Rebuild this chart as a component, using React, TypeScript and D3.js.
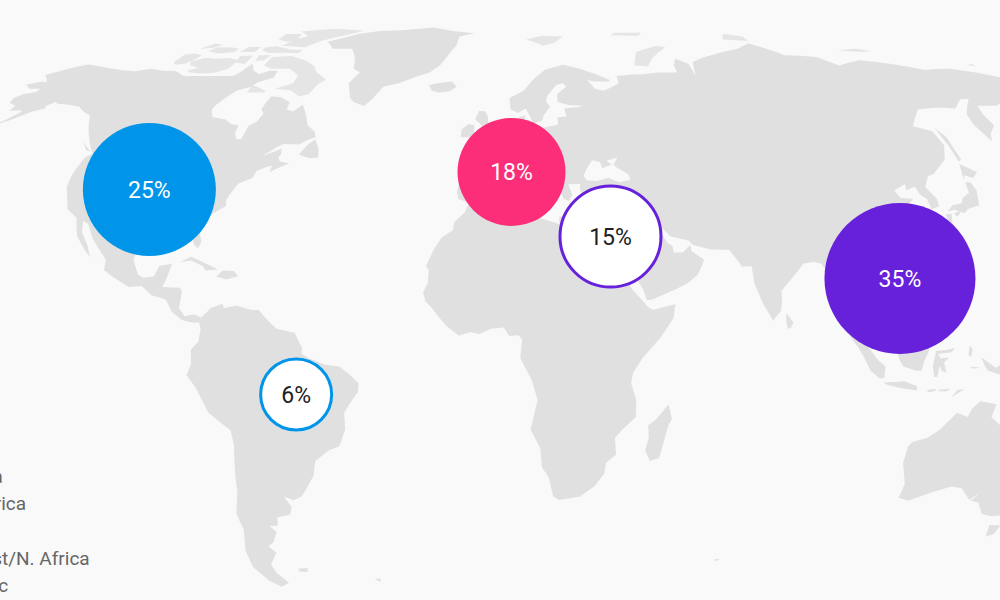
// Regional share bubbles over a grey Robinson world map. The legend hangs off the left edge.
import { useMemo } from "react";
import * as d3 from "d3";

const regions = ["North America", "Europe", "Middle East/N. Africa", "Asia Pacific", "Latin America"];
const shares = [25, 18, 15, 35, 6];
const bubbleLons = [-99.4, 6.27, 34.2, 113.04, -51.8];
const bubbleLats = [39.26, 43.48, 28.03, 18.02, -9.66];
const bubbleRadii = [66.5, 54, 52, 75.5, 37];
const bubbleFills = ["#0095e9", "#fc2d79", "#ffffff", "#6721da", "#ffffff"];
const bubbleStrokes = ["none", "none", "#6721da", "none", "#0095e9"];
const bubbleInk = ["#ffffff", "#ffffff", "#212121", "#ffffff", "#212121"];

const legendLabels = ["N. America", "Latin America", "Europe", "Middle East/N. Africa", "Asia Pacific"];

type Ring = [number, number][];

const northAmerica: Ring = [[-163.5,55],[-160,56],[-157.5,58.5],[-158.5,58.8],[-162,58.7],[-162,60],[-165.3,60.8],[-166,62],[-164.5,63],[-161,63.6],[-161,64.5],[-165,64.5],[-168,65.6],[-164,66.5],[-162,66.2],[-163.5,67.1],[-166.5,68.3],[-163,69.5],[-160,70.5],[-156.5,71.3],[-152,70.8],[-148,70.4],[-141,69.7],[-135,69.3],[-130,70],[-125,69.5],[-120,69.4],[-115,68],[-108,68],[-103,68],[-97,68],[-95.5,69],[-94,71.5],[-91,69.5],[-88,68.5],[-85,69.5],[-82,69.5],[-81.5,67.5],[-86,66.3],[-87,65],[-91,64],[-93,62],[-94.5,60],[-94.5,58.8],[-92.5,57],[-88,56.5],[-85,55.3],[-82.3,55],[-82,53],[-80.5,51.5],[-79,51.5],[-79,53],[-79,54.8],[-77,56],[-76.5,58],[-78,59],[-78,60.8],[-77.5,62.5],[-74,62.2],[-70,61],[-69.5,59],[-67,58.5],[-65,60.3],[-62,57.5],[-60,55],[-57,53.5],[-55.8,52],[-58,51.3],[-60,50.2],[-65,50.3],[-67,49.3],[-70,47.3],[-65,49.2],[-64.5,47.8],[-65,47],[-64,46],[-61,45.5],[-63.5,44.6],[-66,43.5],[-66,45],[-67.5,44.7],[-70,43.7],[-70.5,42],[-74,40.7],[-75.5,38],[-76,36.8],[-75.5,35.3],[-78,33.9],[-81,32],[-81.4,30],[-80,26.8],[-80.5,25.2],[-81.8,26],[-82.8,28],[-84,30],[-86,30.4],[-89.5,30.2],[-89.5,29.1],[-91,29.3],[-94,29.6],[-97,28],[-97.5,25],[-97.8,22.3],[-96,19],[-94.5,18.2],[-91.5,18.5],[-90.5,21],[-87,21.5],[-88,18],[-88.8,16],[-84,15.8],[-83.3,15],[-83.7,11],[-82,9],[-79.5,9.5],[-77.5,8.7],[-78,7.5],[-80,7.5],[-81.5,7.8],[-83,8.3],[-85.5,10],[-87.5,13],[-91.5,14],[-94.5,16.2],[-98,16],[-102,18],[-105.5,20],[-105.5,22.5],[-108.5,25.5],[-110.5,27.5],[-113,31],[-114.8,31.7],[-114,29],[-111.5,26],[-110,23],[-112,25],[-115,28],[-117,32.5],[-120.5,34.5],[-122,37],[-124,40],[-124.5,43],[-124,47],[-122.5,48],[-125,50],[-128,52.5],[-130.5,54.7],[-133.5,57.5],[-137,58.5],[-140,59.7],[-145,60.3],[-148.5,60.5],[-150,61],[-151.5,60],[-151,59.3],[-154,58.5],[-158,56.3],[-161,55.2]];

const southAmerica: Ring = [[-77.5,8.7],[-75,11],[-72,12],[-71.5,11],[-68,11.5],[-64,10.5],[-62,10.5],[-60,8.5],[-57,6],[-52,5],[-50,1.5],[-50,0],[-48,-1],[-44,-2.5],[-40,-3],[-37,-5],[-34.8,-7],[-35,-9],[-37.5,-12],[-39,-14],[-39,-18],[-41,-22],[-44,-23],[-48,-25.5],[-49,-29],[-52,-32.5],[-53.5,-34],[-56,-34.9],[-58.5,-34],[-57,-36.5],[-58,-38.3],[-62,-39],[-62.5,-41],[-65,-41],[-63.5,-42.5],[-65.5,-45],[-67.5,-46],[-65.8,-47.5],[-69,-50.5],[-68.5,-52.5],[-66,-55],[-69,-56],[-72,-54.5],[-75,-51],[-75,-47],[-73,-42],[-73.5,-38],[-71.5,-33],[-71,-29],[-70,-22],[-70.4,-18.3],[-76,-14],[-79,-8],[-81.3,-5],[-80,-2.5],[-80,1],[-78,3],[-77.5,6],[-78,7.5]];

const africa: Ring = [[-5.9,35.8],[-2,35.2],[3,36.9],[10,37.3],[11,36.9],[10,34],[12,33],[15,32.3],[20,31],[20,32.8],[23,32.6],[25,31.5],[29,31],[32,31.2],[32.5,30],[33,28.2],[34,26],[37,21],[37.5,18.5],[39.5,15.5],[43,12],[43.3,11.5],[45,10.5],[51.2,11.9],[50.5,8.5],[47,4],[42,-1],[39.5,-4.5],[39,-7],[40.5,-11],[40.5,-15],[37,-18],[35,-20],[35.5,-24],[32.8,-26],[32.5,-28.5],[30,-31.5],[26,-34],[20,-34.8],[18.3,-34],[17,-29.5],[15,-27],[14.5,-22.5],[11.8,-18],[13.7,-11],[12,-6],[9,-1],[9.5,3.5],[8.5,4.5],[6,4.3],[4.5,6.3],[1,6],[-2,4.8],[-4.5,5.2],[-7.7,4.4],[-11,6.7],[-13.3,9],[-15,11],[-16.8,12.5],[-17.5,14.7],[-16.3,17],[-16.2,20],[-17,21],[-15,25],[-13,27.8],[-10,29.5],[-9.7,31.5],[-7,33.7]];

const eurasia: Ring = [[-5.6,36],[-9,37],[-9.5,38.7],[-8.8,42],[-9,43.2],[-2,43.4],[-1.2,45],[-2.5,47.2],[-4.7,48.4],[-1.5,48.7],[1.5,50.2],[4,52],[5,53.2],[8.5,53.8],[8.2,55.5],[8.2,57],[10.5,57.5],[10,55.5],[11,54.2],[14,54],[18.5,54.7],[21,55.2],[21,57],[24,57.2],[23.5,59.3],[28,59.6],[30,60],[25,60.2],[21.5,61],[21.5,63],[25,65],[24,66],[21.5,65.5],[18,62.5],[17.5,61],[18.8,59.8],[16.5,57.5],[16,56.2],[13,55.4],[11.5,58],[10.5,59.3],[8,58.1],[5.5,59],[5,62],[10,64],[14,67.5],[18,69.8],[25,71.2],[31,70],[41,67],[41,66.5],[35,66.5],[33,67],[35,64.5],[38,64],[40.5,64.7],[44,66],[44,68],[54,68.5],[60,69],[67,69],[67,71],[69,73],[73,71.5],[73,68],[75,72],[80,73.3],[87,74.5],[97,76],[104,77.7],[113,74],[125,73.5],[130,71],[140,72.5],[150,71.5],[160,69.7],[170,70],[178,69],[185,67.5],[189.9,66],[187,64.5],[182,65],[179,63],[179,62.3],[175,61.5],[170,60],[163.3,60],[162,57.7],[162,55],[158.5,52.9],[156.7,51],[155.6,55],[156.7,57.8],[163,61.8],[160,61.7],[155,59.3],[150,59.5],[142,59],[135.5,54.7],[140.5,53.5],[140.7,50],[138,46.5],[132,43],[130,42.5],[127.5,39.8],[129.4,37],[129,35.2],[126.5,34.5],[126.5,37],[125,38],[124.5,40],[121.5,39],[122,40.6],[118,39],[119,37.3],[122.5,37],[119.3,35],[121.8,31.5],[122,29],[119.5,25.5],[116.5,23],[113.5,22.2],[110.5,21],[108,21.7],[105.8,19],[109,14.5],[109,11.5],[105,8.7],[105,10.2],[102,12.5],[100.5,13.5],[99.5,11],[100,8],[103.3,4],[104,1.4],[101.3,3],[100,6],[98.3,8],[98.7,12],[97.7,16],[95,15.8],[94.3,18],[92,21.5],[90,22],[87,21.5],[85,19.5],[80.2,15],[80.2,13],[79.8,10.3],[77.5,8],[75,12],[73,17],[72.7,21],[70,20.8],[69,22.3],[67,24.8],[61.5,25],[57,26],[56,27],[51,28],[48.8,30],[48,29.5],[50,26.5],[51.3,25.8],[51.5,24.2],[54,24.2],[56.3,26],[56.5,24.5],[59.8,22.5],[57.8,19],[55,17],[52,15.7],[45,13],[43.4,12.8],[42.7,15],[39,21],[35,28],[34.8,29.5],[34,31.3],[35,33],[36,36],[33,36],[30.5,36.5],[27.5,37],[26.3,39.5],[26.5,40.6],[23,40.5],[24,38],[23,36.5],[21.5,37],[19.5,41],[19,42.2],[15.5,44],[13.7,45.6],[12.3,45.3],[12.5,44],[16,41.8],[18.4,40],[16.8,40],[16,38],[15.8,40],[12.5,41.5],[10.5,43],[8.8,44.4],[6,43],[3,43],[3,42],[0,39.8],[-0.5,38.3],[-2,36.8],[-4.5,36.7]];

const australia: Ring = [[116,-22],[115.5,-26],[117.5,-31],[117,-34.3],[120,-35],[126,-33],[131,-31.6],[134,-32],[137.5,-34.8],[139.7,-33],[138,-35],[140.5,-35.5],[143,-38.2],[146,-38.7],[149,-38.5],[152,-37.5],[153.2,-33.8],[155.5,-28],[155,-25],[151,-21],[148,-19],[147.5,-15],[145.5,-14],[144.5,-10.8],[143.5,-13],[143,-17],[141,-17.5],[137.5,-15],[138.5,-12],[134,-11.3],[132,-13],[131,-15],[128,-14],[124,-18],[121,-20],[117,-21]];

const greenland: Ring = [[-73,78.3],[-68,76],[-60,76],[-56,73],[-54,70],[-51,69],[-53,66],[-50,62],[-48,60.9],[-44,59.9],[-42,62],[-40,65],[-35,66],[-25,69],[-22,71],[-20,74],[-18,77],[-18,80],[-12,81.3],[-22,82.2],[-32,83.6],[-45,82.5],[-55,82.2],[-62,81.2],[-66,80],[-70,79]];

// thin northern islands, these read paler than the mainland in the picture
const arcticIslands: Ring[] = [
  [[-80,73.5],[-75,72.5],[-70,71],[-67,69],[-62,67],[-64,65.5],[-65,63],[-68,62.5],[-72,64],[-78,64.5],[-73,66],[-73,68],[-78,70],[-85,70],[-89,71],[-89,73.5],[-82,73.8]],
  [[-117,71],[-118.5,72],[-115,73.3],[-110,73],[-105,73.2],[-101,72.5],[-101,70],[-105,68.9],[-110,68.7],[-114,69],[-116,69.5],[-113,70.3]],
  [[-125,72],[-123,71.2],[-120,71.5],[-118,72.5],[-117.5,74],[-121,74.5],[-124.5,74.2]],
  [[-117,75.2],[-112,74.5],[-106,75],[-106,76],[-110,76.5],[-116,76.4]],
  [[-122,76],[-117,76.3],[-115,77.3],[-119,77.7]],
  [[-104,75],[-98,75],[-98,76.5],[-103,76.7]],
  [[-96,75.5],[-92,74.7],[-80,74.6],[-79.5,75.6],[-85,75.8],[-92,76.8],[-96,76.5]],
  [[-95,74],[-90,74],[-91,72.5],[-94,72.3]],
  [[-102,73.8],[-97,73.9],[-97,71.5],[-101,71.8]],
  [[-90,77],[-80,76.5],[-76,78.5],[-68,80.5],[-62,82.3],[-75,83.1],[-90,82],[-84,80],[-88,79]],
  [[-95,79],[-90,78.3],[-87,79],[-88,81],[-95,81]],
  [[-87,65.5],[-81,64],[-81,63.5],[-87,63.5]],
  [[11,79],[18,77],[23,78],[27,80],[18,80.3]],
  [[52,71],[57,70.7],[60,73],[68,76.5],[65,77],[55,75]],
  [[48,80.5],[60,80.3],[62,81.5],[50,81.5]],
  [[95,79],[105,78.5],[105,80],[98,81.1]],
  [[137,75.5],[145,75],[150,75.3],[145,76]],
  [[179,71],[182,71],[181,71.5]],
];

const atlanticIslands: Ring[] = [
  [[-24,65.5],[-21,66],[-16,66.5],[-14,65],[-16,63.8],[-20,63.5],[-22.5,64]],
  [[-59,47.7],[-55.5,46.8],[-52.8,47],[-53.5,49],[-55.7,51.5],[-57.5,50]],
  [[-128,50.8],[-123.5,48.4],[-125,48.7]],
  [[-85,21.9],[-82,23.2],[-77,21.3],[-74.2,20.2],[-77.5,19.9],[-78.5,21],[-82,22.3]],
  [[-74.4,18.5],[-72.8,19.9],[-69.8,19.8],[-68.4,18.6],[-71.5,17.8]],
  [[-61,-51.5],[-58,-51.3],[-58.5,-52.3],[-61,-52.2]],
  [[-38,-54],[-36,-54],[-36.2,-54.8]],
  [[-5.5,50],[1.3,51.2],[1.7,52.7],[0,53.5],[-1.5,55],[-2,57.5],[-3.2,58.6],[-5,58.6],[-6,56.5],[-3,54.5],[-5,52],[-3,51.4]],
  [[-10,52],[-6,52],[-6,55],[-8,55.3],[-10,54]],
  [[23.5,35.4],[26.3,35.1],[24.5,35.2]],
  [[49.3,-12],[50.4,-15.5],[49.5,-17],[47.5,-24.8],[45,-25.5],[43.5,-23],[44.3,-20],[44,-17],[46,-15.7],[48,-13.5]],
  [[69,-49],[70.5,-49.2],[69.5,-49.7]],
];

const asiaIslands: Ring[] = [
  [[142,54.3],[143.5,52],[143,49],[143,46.5],[141.8,46],[142,50]],
  [[140,41.5],[141.5,45.4],[145.3,43.4],[143,42],[141,42.7]],
  [[130.9,34],[133,35.5],[136,36],[137,37.3],[139.5,38.5],[140,41],[141.5,41],[142,39],[140.7,35.5],[137,34.6],[135.5,33.6],[133,34.4]],
  [[130,33.3],[131.8,33.5],[131,31],[130.2,31.3]],
  [[132.5,33.5],[134.5,34.2],[134,33.3],[133,32.8]],
  [[120.2,23],[121.5,25.2],[121.8,24.7],[120.8,22]],
  [[108.8,19.2],[110.5,20],[111,19.5],[109.5,18.2]],
  [[81,8],[81.2,9.7],[83,7.5],[82.2,6.2],[81.4,6]],
  [[97,5.6],[99.7,4],[102.7,2],[105.7,-1.5],[107.7,-3],[107.5,-5.8],[106.2,-5.8],[103.7,-4],[102,-1],[100.2,1.7]],
  [[107.3,-6.8],[110.5,-6.7],[113,-6.5],[116.5,-7.7],[116.5,-8.7],[112,-8.1],[108.5,-7.4]],
  [[110.5,1.5],[113,2.5],[115,4.2],[118.2,7],[120.5,5],[119.3,2],[119.5,1],[118,-2],[117.5,-4],[116,-4],[112.5,-3],[111.5,-1.5]],
  [[121,-5.5],[120.5,-3],[121.3,0.7],[124.5,1],[126.5,1.5],[125.5,0.4],[121.8,0],[122.5,-1],[124.8,-0.9],[123.5,-2],[124.3,-4.5],[123,-4],[122.3,-2.8],[121.8,-5.5]],
  [[120.5,18.5],[122.2,18.4],[122,16],[124,13],[122,13.8],[120.5,14],[120,16]],
  [[122,7],[123.5,8.6],[125.5,9.7],[126.5,7],[125.5,5.7],[124,6.5]],
  [[122,11],[125,12.5],[125.3,10.5],[123,9.3]],
  [[133.5,-0.8],[137.5,-3.3],[140.5,-1.6],[143.5,-2.6],[147.5,-4.5],[150,-6],[149.5,-7],[153,-10.5],[148.5,-8.5],[146,-8.5],[143.5,-9],[140.5,-8.2],[140.5,-5.5],[135.5,-4],[134.5,-2.8]],
  [[126,-10.3],[129.3,-8.4],[127.5,-8.6]],
  [[122.3,-8.5],[125.5,-8.3],[124.5,-8.9],[122.5,-8.9]],
  [[119.3,-8.6],[121.5,-8.3],[121.5,-8.8],[119.5,-9.1]],
  [[130,0],[130.5,2],[131.2,1],[130.7,-0.8]],
  [[130.5,-3],[133.3,-3.2],[131.5,-3.5]],
  [[147,-40.8],[150.3,-40.9],[150,-43],[148,-43.6]],
];

const blackSea: Ring = [[28.5,41.5],[31.5,41.3],[35,42.1],[38,41],[41.5,41.6],[41,43],[38,44.5],[37,45.2],[38.5,47],[35,46.2],[36.5,45.3],[33.5,44.4],[33,45.9],[30.7,46.3],[28.6,44],[27.7,42.5]];

// Robinson lookup, every 5 degrees of latitude
const robinsonPlen = [1,0.9986,0.9954,0.99,0.9822,0.973,0.96,0.9427,0.9216,0.8962,0.8679,0.835,0.7986,0.7597,0.7186,0.6732,0.6213,0.5722,0.5322];
const robinsonPdfe = [0,0.062,0.124,0.186,0.248,0.31,0.372,0.434,0.4958,0.5571,0.6176,0.6769,0.7346,0.7903,0.8435,0.8936,0.9394,0.9761,1];

function robinsonRaw(lambda: number, phi: number): [number, number] {
  const t = Math.min(17.9999, (Math.abs(phi) * 180) / Math.PI / 5);
  const i = Math.floor(t);
  const f = t - i;
  const plen = robinsonPlen[i] + (robinsonPlen[i + 1] - robinsonPlen[i]) * f;
  const pdfe = robinsonPdfe[i] + (robinsonPdfe[i + 1] - robinsonPdfe[i]) * f;
  return [0.8487 * lambda * plen, 1.3523 * pdfe * Math.sign(phi)];
}

// d3 wants small rings wound one way, flip any that came out covering the globe
function toPolygon(ring: Ring) {
  const closed = [...ring, ring[0]];
  const poly = { type: "Polygon", coordinates: [closed] } as d3.GeoPermissibleObjects;
  if (d3.geoArea(poly) > 2 * Math.PI) {
    return { type: "Polygon", coordinates: [[...closed].reverse()] } as d3.GeoPermissibleObjects;
  }
  return poly;
}

export default function App() {
  const projection = useMemo(
    () => d3.geoProjection(robinsonRaw).rotate([-10, 0]).scale(250).translate([524, 354]).precision(0.2),
    []
  );
  const geoPath = d3.geoPath(projection);

  const land: Ring[] = [northAmerica, southAmerica, africa, eurasia, australia, greenland, ...atlanticIslands, ...asiaIslands];
  const radius = d3.scaleLinear().domain([6, 15, 18, 25, 35]).range([bubbleRadii[4], bubbleRadii[2], bubbleRadii[1], bubbleRadii[0], bubbleRadii[3]]);
  const legendY = d3.scalePoint<string>().domain(legendLabels).range([483, 592]);

  return (
    <svg
      width={1000}
      height={600}
      viewBox="0 0 1000 600"
      style={{ position: "absolute", left: 0, top: 0, background: "#f9f9f9", fontFamily: "Roboto" }}
    >
      <g fill="#e0e0e0">
        {land.map((ring, i) => (
          <path key={i} d={geoPath(toPolygon(ring)) ?? ""} />
        ))}
      </g>
      <g fill="#e5e5e5">
        {arcticIslands.map((ring, i) => (
          <path key={i} d={geoPath(toPolygon(ring)) ?? ""} />
        ))}
      </g>
      <path d={geoPath(toPolygon(blackSea)) ?? ""} fill="#f9f9f9" />

      {regions.map((name, i) => {
        const [cx, cy] = projection([bubbleLons[i], bubbleLats[i]]) as [number, number];
        return (
          <g key={name} transform={`translate(${cx},${cy})`}>
            <circle
              r={radius(shares[i]) - (bubbleStrokes[i] === "none" ? 0 : 1.5)}
              fill={bubbleFills[i]}
              stroke={bubbleStrokes[i]}
              strokeWidth={3}
            />
            <text textAnchor="middle" dy="0.35em" fontSize={23} fill={bubbleInk[i]}>
              {shares[i]}%
            </text>
          </g>
        );
      })}

      {legendLabels.map((label) => (
        <text key={label} x={-91} y={legendY(label)} fontSize={19} fill="#666666">
          {label}
        </text>
      ))}
    </svg>
  );
}
